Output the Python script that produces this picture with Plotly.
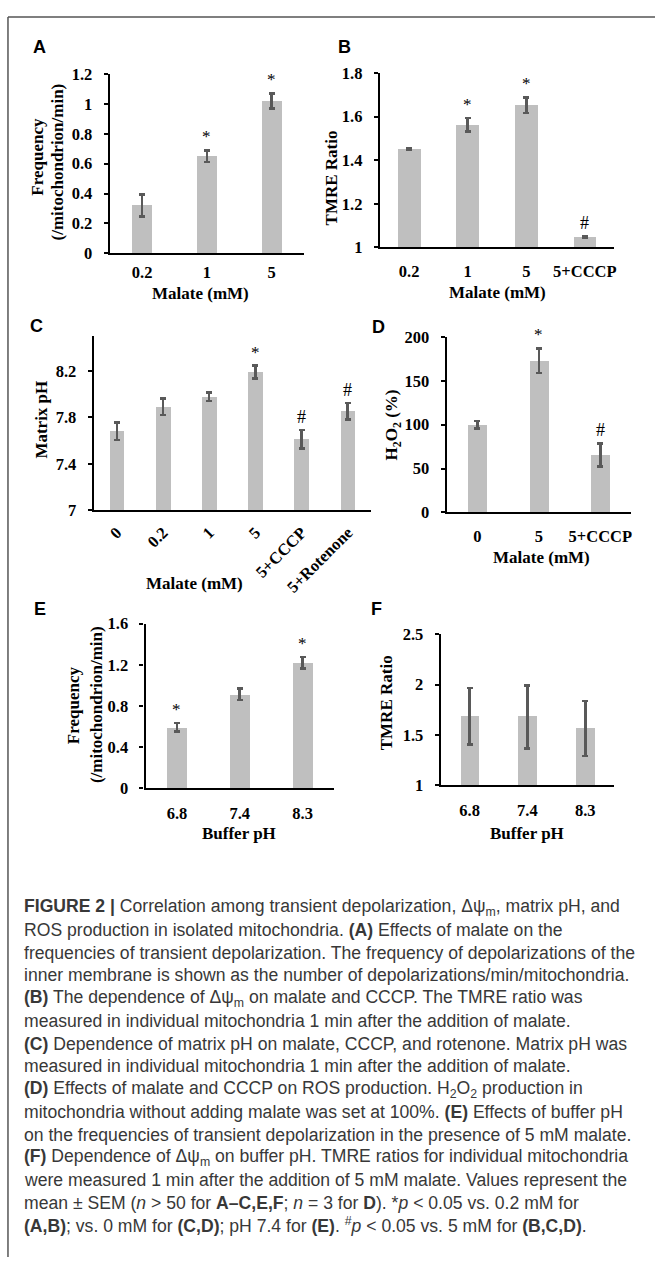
import plotly.graph_objects as go

W, H = 657, 1267

# ---------------- data ----------------
a_cats = ["0.2", "1", "5"]
a_vals = [0.32, 0.65, 1.02]
a_errs = [0.075, 0.04, 0.05]
a_marks = ["", "*", "*"]

b_cats = ["0.2", "1", "5", "5+CCCP"]
b_vals = [1.451, 1.562, 1.652, 1.048]
b_errs = [0.005, 0.031, 0.036, 0.003]
b_marks = ["", "*", "*", "#"]

c_cats = ["0", "0.2", "1", "5", "5+CCCP", "5+Rotenone"]
c_vals = [7.68, 7.893, 7.977, 8.19, 7.611, 7.853]
c_errs = [0.076, 0.071, 0.036, 0.054, 0.08, 0.072]
c_marks = ["", "", "", "*", "#", "#"]

d_cats = ["0", "5", "5+CCCP"]
d_vals = [100, 173, 65.4]
d_errs = [4.2, 14.2, 13.3]
d_marks = ["", "*", "#"]

e_cats = ["6.8", "7.4", "8.3"]
e_vals = [0.592, 0.912, 1.219]
e_errs = [0.04, 0.056, 0.056]
e_marks = ["*", "", "*"]

f_cats = ["6.8", "7.4", "8.3"]
f_vals = [1.686, 1.68, 1.565]
f_errs = [0.281, 0.313, 0.273]
f_marks = ["", "", ""]

caption_lines = [
    "<b>FIGURE 2 |</b> Correlation among transient depolarization, Δψ<sub>m</sub>, matrix pH, and",
    "ROS production in isolated mitochondria. <b>(A)</b> Effects of malate on the",
    "frequencies of transient depolarization. The frequency of depolarizations of the",
    "inner membrane is shown as the number of depolarizations/min/mitochondria.",
    "<b>(B)</b> The dependence of Δψ<sub>m</sub> on malate and CCCP. The TMRE ratio was",
    "measured in individual mitochondria 1 min after the addition of malate.",
    "<b>(C)</b> Dependence of matrix pH on malate, CCCP, and rotenone. Matrix pH was",
    "measured in individual mitochondria 1 min after the addition of malate.",
    "<b>(D)</b> Effects of malate and CCCP on ROS production. H<sub>2</sub>O<sub>2</sub> production in",
    "mitochondria without adding malate was set at 100%. <b>(E)</b> Effects of buffer pH",
    "on the frequencies of transient depolarization in the presence of 5 mM malate.",
    "<b>(F)</b> Dependence of Δψ<sub>m</sub> on buffer pH. TMRE ratios for individual mitochondria",
    "were measured 1 min after the addition of 5 mM malate. Values represent the",
    "mean ± SEM (<i>n</i> &gt; 50 for <b>A–C,E,F</b>; <i>n</i> = 3 for <b>D</b>). *<i>p</i> &lt; 0.05 vs. 0.2 mM for",
    "<b>(A,B)</b>; vs. 0 mM for <b>(C,D)</b>; pH 7.4 for <b>(E)</b>. <sup>#</sup><i>p</i> &lt; 0.05 vs. 5 mM for <b>(B,C,D)</b>.",
]

# ---------------- style ----------------
SERIF = "Liberation Serif"
SANS = "Liberation Sans"
BAR = "#bfbfbf"
ERR = "#595959"


def px(x):
    return x / W


def py(y):
    return 1 - y / H


panels = [
    # name, cats, vals, errs, marks, xpx, ypx, yrange, dtick, barwidth, tickangle, xstandoff
    ("A", a_cats, a_vals, a_errs, a_marks, (110, 305), (66, 248), [0, 1.2], 0.2, 0.31, 0, 3),
    ("B", b_cats, b_vals, b_errs, b_marks, (381, 616), (65, 242), [1, 1.8], 0.2, 0.39, 0, 8),
    ("C", c_cats, c_vals, c_errs, c_marks, (94, 372), (332, 509), [7, 8.5], 0.4, 0.32, -45, 4),
    ("D", d_cats, d_vals, d_errs, d_marks, (448, 633), (333, 511), [0, 200], 50, 0.31, 0, 8),
    ("E", e_cats, e_vals, e_errs, e_marks, (146, 335), (624, 791), [0, 1.6], 0.4, 0.32, 0, 9),
    ("F", f_cats, f_vals, f_errs, f_marks, (442, 616), (635, 788), [1, 2.5], 0.5, 0.32, 0, 9),
]

TICKFONT = dict(family=SERIF, size=16.5, color="black", weight="bold")

fig = go.Figure()
annotations = []
layout_axes = {}

for i, (name, cats, vals, errs, marks, xp, yp, yr, dt, bw, ta, xso) in enumerate(panels):
    n = i + 1
    xa = "x" if n == 1 else f"x{n}"
    ya = "y" if n == 1 else f"y{n}"
    fig.add_trace(go.Bar(
        x=cats, y=vals, width=bw, marker=dict(color=BAR, line=dict(width=0)),
        error_y=dict(type="data", array=errs, visible=True, color=ERR, thickness=2.6, width=3),
        xaxis=xa, yaxis=ya, showlegend=False,
    ))
    xk = "xaxis" if n == 1 else f"xaxis{n}"
    yk = "yaxis" if n == 1 else f"yaxis{n}"
    layout_axes[xk] = dict(
        domain=[px(xp[0]), px(xp[1])], anchor=ya, type="category",
        range=[-0.5, len(cats) - 0.5], showline=True, linecolor="black", linewidth=2.2,
        ticks="", ticklen=0, showgrid=False, zeroline=False, tickangle=ta,
        tickfont=TICKFONT, ticklabelstandoff=xso, fixedrange=True,
    )
    layout_axes[yk] = dict(
        domain=[py(yp[1]), py(yp[0])], anchor=xa, range=yr, dtick=dt, tick0=yr[0],
        showline=True, linecolor="black", linewidth=2.2, ticks="outside", ticklen=4,
        tickwidth=2.2, tickcolor="black", showgrid=False, zeroline=False,
        tickfont=TICKFONT, ticklabelstandoff=8, fixedrange=True,
    )
    for j, (v, e, m) in enumerate(zip(vals, errs, marks)):
        if m:
            annotations.append(dict(
                x=j, y=v + e, xref=xa, yref=ya, text=m, showarrow=False,
                xanchor="center", yanchor="bottom", yshift=2 if m == "*" else 1,
                font=dict(family=SERIF, size=17 if m == "*" else 18, color="black"),
            ))

# panel letters
for t, x, y in [("A", 40, 39), ("B", 346, 39), ("C", 37, 322), ("D", 380, 323), ("E", 40, 609), ("F", 378, 609)]:
    annotations.append(dict(x=px(x), y=py(y), xref="paper", yref="paper", text=f"<b>{t}</b>",
                            xanchor="center", yanchor="middle",
                            showarrow=False, font=dict(family=SANS, size=18, color="black")))

# axis titles
tf = dict(family=SERIF, size=17, color="black", weight="bold")
titles = [
    ("Frequency", 38, 150, -90),
    ("(/mitochondrion/min)", 58, 155, -90),
    ("TMRE Ratio", 332, 171, -90),
    ("Matrix pH", 42, 417, -90),
    ("H<sub>2</sub>O<sub>2</sub> (%)", 394, 422, -90),
    ("Frequency", 74, 707, -90),
    ("(/mitochondrion/min)", 97, 706, -90),
    ("TMRE Ratio", 388, 704, -90),
    ("Malate (mM)", 201, 289, 0),
    ("Malate (mM)", 499, 288, 0),
    ("Malate (mM)", 195, 583, 0),
    ("Malate (mM)", 543, 557, 0),
    ("Buffer pH", 240, 837, 0),
    ("Buffer pH", 529, 837, 0),
]
for t, x, y, ang in titles:
    annotations.append(dict(x=px(x), y=py(y), xref="paper", yref="paper", text=t, textangle=ang,
                            xanchor="center", yanchor="middle",
                            showarrow=False, font=tf))

# caption
for k, line in enumerate(caption_lines):
    annotations.append(dict(x=px(22), y=py(912 + 23.07 * k), xref="paper", yref="paper",
                            xanchor="left", yanchor="middle", text=line, showarrow=False,
                            font=dict(family=SANS, size=17.6, color="#383838")))

shapes = [
    dict(type="line", xref="paper", yref="paper", x0=px(8), x1=1, y0=py(8), y1=py(8),
         line=dict(color="#555555", width=1.5)),
    dict(type="line", xref="paper", yref="paper", x0=px(8), x1=px(8), y0=py(8), y1=0,
         line=dict(color="#555555", width=1.5)),
]

fig.update_layout(
    width=W, height=H, margin=dict(l=0, r=0, t=0, b=0),
    paper_bgcolor="white", plot_bgcolor="white",
    annotations=annotations, shapes=shapes, bargap=0, **layout_axes,
)

fig.write_html("out.html", config={"displayModeBar": False},
               post_script="document.body.style.margin='0px';document.body.style.overflow='hidden';")
